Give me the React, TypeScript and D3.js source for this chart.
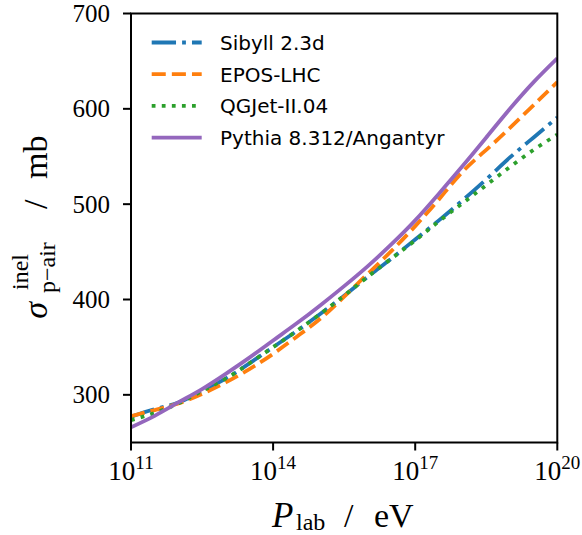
import React from "react";
import * as d3 from "d3";

// log10(P_lab / eV)
const logEnergies = [11, 11.5, 12, 12.5, 13, 13.5, 14, 14.5, 15, 15.5, 16, 16.5, 17, 17.5, 18, 18.5, 19, 19.5, 20];

const sibyll = [277, 285, 292, 304, 317, 333, 350, 367, 385, 404, 424, 443, 463, 483, 504, 526, 549, 570, 591];
const epos = [277.5, 284, 291, 301, 313, 327, 343, 361, 380, 403, 427, 451, 477, 505, 534, 557, 580, 604, 628];
const qgsjet = [273.5, 281, 291, 304, 317, 333, 350, 367, 385, 404, 424, 443, 462, 482, 501, 520, 539, 557, 573];
const pythia = [266, 278, 292, 306, 322, 339, 357, 375, 394, 414, 435, 458, 483, 511, 540, 570, 600, 628, 653];

const seriesNames = ["Sibyll 2.3d", "EPOS-LHC", "QGJet-II.04", "Pythia 8.312/Angantyr"];
const seriesColors = ["#1f77b4", "#ff7f0e", "#2ca02c", "#9467bd"];
const seriesValues = [sibyll, epos, qgsjet, pythia];

const xTickExponents = [11, 14, 17, 20];
const yTicks = [300, 400, 500, 600, 700];

const LW = 3.8;
const dashes = [
  `${6.4 * LW},${1.6 * LW},${1 * LW},${1.6 * LW}`,
  `${3.7 * LW},${1.6 * LW}`,
  `${1 * LW},${1.65 * LW}`,
  "none",
];

const W = 582;
const H = 535;
const left = 131;
const right = 557.3;
const top = 13.5;
const bottom = 442.5;

const SERIF = "'Liberation Serif', 'DejaVu Serif', serif";
const SANS = "'DejaVu Sans', sans-serif";

export default function App() {
  const x = d3.scaleLog().domain([1e11, 1e20]).range([left, right]);
  const y = d3.scaleLinear().domain([250, 700]).range([bottom, top]);

  const line = d3
    .line<[number, number]>()
    .x((d) => x(Math.pow(10, d[0])))
    .y((d) => y(d[1]))
    .curve(d3.curveNatural);

  const legendX0 = 151.7;
  const legendX1 = 201.7;
  const legendY0 = 42.5;
  const legendDy = 31.7;

  return (
    <svg
      width={W}
      height={H}
      style={{ position: "absolute", left: 0, top: 0, background: "#fff" }}
    >
      <defs>
        <clipPath id="plotclip">
          <rect x={left} y={top} width={right - left} height={bottom - top} />
        </clipPath>
      </defs>
      <rect x={0} y={0} width={W} height={H} fill="#fff" />

      <g clipPath="url(#plotclip)">
        {seriesValues.map((vals, i) => (
          <path
            key={seriesNames[i]}
            d={line(logEnergies.map((e, j) => [e, vals[j]] as [number, number])) || ""}
            fill="none"
            stroke={seriesColors[i]}
            strokeWidth={LW}
            strokeDasharray={dashes[i]}
            strokeLinecap="butt"
          />
        ))}
      </g>

      {/* spines */}
      <rect
        x={left}
        y={top}
        width={right - left}
        height={bottom - top}
        fill="none"
        stroke="#000"
        strokeWidth={2}
      />

      {/* x ticks */}
      {xTickExponents.map((p) => {
        const xx = x(Math.pow(10, p));
        return (
          <g key={"xt" + p}>
            <line x1={xx} x2={xx} y1={bottom} y2={bottom + 8} stroke="#000" strokeWidth={2} />
            <text
              x={xx}
              y={480}
              textAnchor="middle"
              fontFamily={SERIF}
              fontSize={27}
              fill="#000"
            >
              <tspan>10</tspan>
              <tspan dy={-11} fontSize={19}>
                {p}
              </tspan>
            </text>
          </g>
        );
      })}

      {/* y ticks */}
      {yTicks.map((v) => {
        const yy = y(v);
        return (
          <g key={"yt" + v}>
            <line x1={left - 8} x2={left} y1={yy} y2={yy} stroke="#000" strokeWidth={2} />
            <text
              x={110}
              y={yy + 8.5}
              textAnchor="end"
              fontFamily={SERIF}
              fontSize={25}
              fill="#000"
            >
              {v}
            </text>
          </g>
        );
      })}

      {/* x label */}
      <g fontFamily={SERIF} fill="#000">
        <text x={272} y={526.5} fontSize={35} fontStyle="italic">
          P
        </text>
        <text x={296} y={530} fontSize={24}>
          lab
        </text>
        <text x={344} y={526.5} fontSize={34}>
          /
        </text>
        <text x={374} y={526.5} fontSize={34}>
          eV
        </text>
      </g>

      {/* y label */}
      <g transform="translate(47,228) rotate(-90)" fontFamily={SERIF} fill="#000">
        <text x={-74} y={0} fontSize={34} fontStyle="italic" textAnchor="end">
          σ
        </text>
        <text x={-62} y={-19} fontSize={24}>
          inel
        </text>
        <text x={-65} y={8} fontSize={24}>
          p−air
        </text>
        <text x={19} y={0} fontSize={34}>
          /
        </text>
        <text x={49} y={0} fontSize={34}>
          mb
        </text>
      </g>

      {/* legend */}
      {seriesNames.map((name, i) => {
        const ly = legendY0 + i * legendDy;
        return (
          <g key={"lg" + name}>
            <line
              x1={legendX0}
              x2={legendX1}
              y1={ly}
              y2={ly}
              stroke={seriesColors[i]}
              strokeWidth={LW}
              strokeDasharray={dashes[i]}
            />
            <text
              x={220}
              y={ly + 7.3}
              fontFamily={SANS}
              fontSize={20}
              fill="#000"
            >
              {name}
            </text>
          </g>
        );
      })}
    </svg>
  );
}
